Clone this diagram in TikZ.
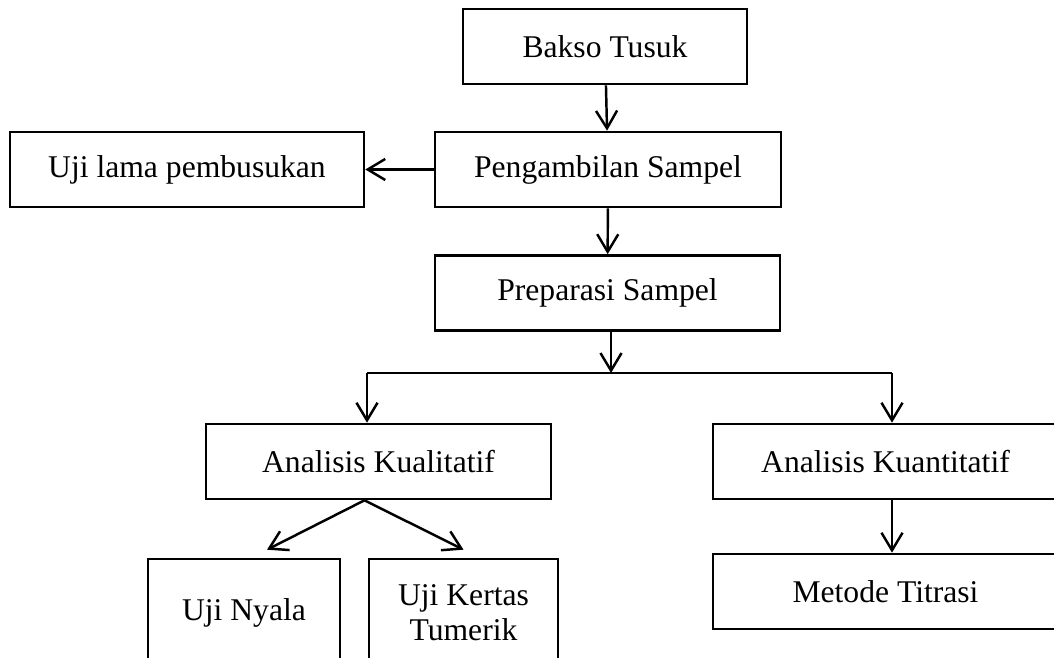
\documentclass[tikz,border=0pt]{standalone}
\usepackage{fontspec}
\setmainfont{Liberation Serif}
\usetikzlibrary{arrows.meta,calc}
\tikzset{alur/.style={x=0.02cm,y=0.02cm,font=\fontsize{18}{20}\selectfont},
  kotak/.style={draw,line width=1.5pt,inner sep=0pt,minimum height=1.5cm,align=center},
  panah/.style={line width=1.4pt,-{Straight Barb[length=10pt,width=12pt]}}}

\begin{document}
\begin{tikzpicture}[alur]
    \useasboundingbox (0,0) rectangle (1054,658);
    \clip (0,0) rectangle (1054,658);
    \node[kotak,minimum width=5.68cm] (bakso) at (605,611.5) {Bakso Tusuk};
    \node[kotak,minimum width=6.92cm] (ambil) at (608,488.5) {Pengambilan Sampel};
    \node[kotak,minimum width=7.08cm] (lama) at (187,488.5) {Uji lama pembusukan};
    \node[kotak,minimum width=6.9cm] (prep) at (607.5,365) {Preparasi Sampel};
    \node[kotak,minimum width=6.9cm] (kual) at (378.5,196.5) {Analisis Kualitatif};
    \node[kotak,minimum width=6.9cm] (kuan) at (885.5,196.5) {Analisis Kuantitatif};
    \node[kotak,minimum width=3.84cm,minimum height=2.16cm] (nyala) at (244,45) {Uji Nyala};
    \node[kotak,minimum width=3.78cm,minimum height=2.16cm] (kertas) at (463.5,45) {Uji Kertas\\Tumerik};
    \node[kotak,minimum width=6.9cm] (titrasi) at (885.5,66.5) {Metode Titrasi};
    % cabang
    \coordinate (cabang) at (611,285);
    \coordinate (kiri) at (367,285);
    \coordinate (kanan) at (892,285);
    \draw[panah] (bakso) -- (ambil);
    \draw[panah] (ambil) -- (lama);
    \draw[panah] (ambil) -- (prep);
    \draw[panah] (prep.south -| cabang) -- (cabang);
    \draw[line width=1.4pt] (kiri) -- (kanan);
    \draw[panah] (kiri) -- (kiri |- kual.north);
    \draw[panah] (kanan) -- (kanan |- kuan.north);
    \draw[panah] ($(kual.south)+(-14,0)$) -- ($(nyala.north)+(23,8)$);
    \draw[panah] ($(kual.south)+(-14,0)$) -- ($(kertas.north)+(0,8)$);
    \draw[panah] (kuan.south -| kanan) -- (titrasi.north -| kanan);
  \end{tikzpicture}
\end{document}
